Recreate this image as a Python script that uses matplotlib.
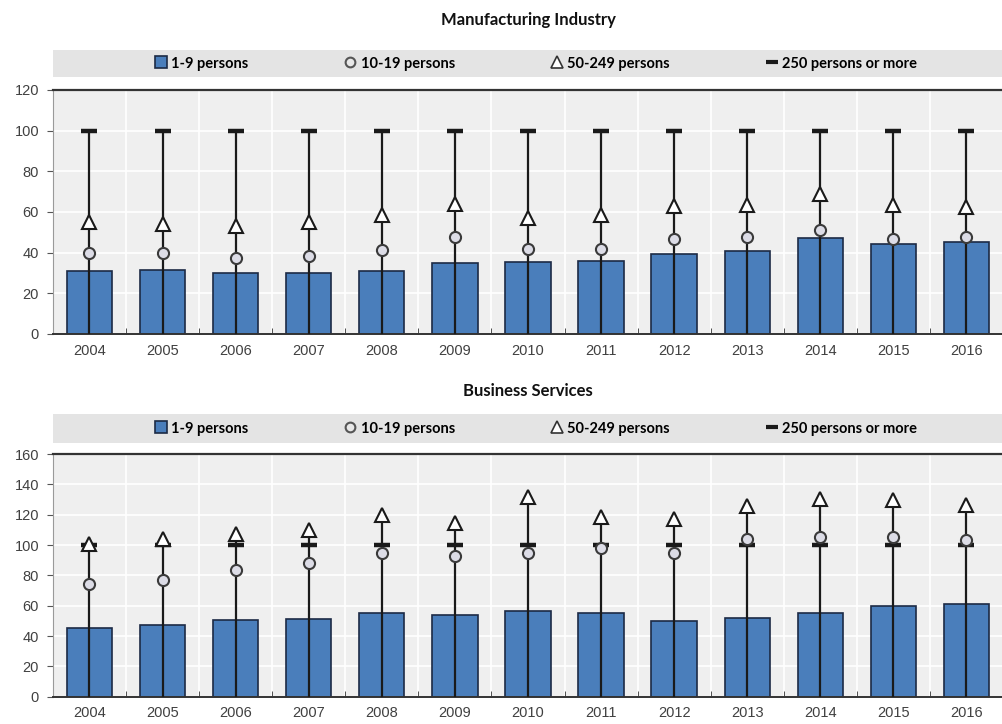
import numpy as np
import matplotlib
matplotlib.use("Agg")
import matplotlib.pyplot as plt
from matplotlib.patches import Rectangle
from matplotlib.lines import Line2D

# data (index, 250 persons or more = 100)
years = ['2004', '2005', '2006', '2007', '2008', '2009', '2010',
         '2011', '2012', '2013', '2014', '2015', '2016']

manu_1_9 = [31, 31.5, 30, 30, 31, 35, 35.5, 36, 39.5, 41, 47, 44.5, 45]
manu_10_19 = [40, 40, 37.5, 38.5, 41.5, 47.5, 42, 42, 46.5, 47.5, 51, 46.5, 47.5]
manu_50_249 = [55, 54, 53, 55, 58.5, 64, 57, 58.5, 63, 63.5, 69, 63.5, 62.5]
manu_250 = [100] * 13

serv_1_9 = [45, 47.5, 50.5, 51, 55, 54, 56.5, 55, 50, 52, 55, 59.5, 61]
serv_10_19 = [74, 77, 83.5, 88, 95, 93, 94.5, 98, 95, 104, 105, 105, 103]
serv_50_249 = [101, 104, 107.5, 110, 119.5, 114.5, 131.5, 118.5, 117, 126, 130.5, 129.5, 126.5]
serv_250 = [100] * 13

labels = ['1-9 persons', '10-19 persons', '50-249 persons', '250 persons or more']

BAR = '#4a7ebb'
BAR_EDGE = '#1c2a45'
LINE = '#1a1a1a'
BG = '#efefef'
BAND = '#e4e4e4'
TICK_COL = '#404040'


def draw_panel(fig, rect, band_rect, title, title_y, b1, c10, t50, d250, ymax):
    ax = fig.add_axes(rect)
    ax.set_facecolor(BG)
    x = np.arange(len(years))

    ax.bar(x, b1, width=0.62, color=BAR, edgecolor=BAR_EDGE, linewidth=1.2, zorder=2)
    tops = np.max(np.vstack([b1, c10, t50, d250]), axis=0)
    ax.vlines(x, 0, tops, color=LINE, linewidth=1.6, zorder=3)
    ax.plot(x, d250, linestyle='none', marker='_', markersize=11, mew=3.2, color=LINE, zorder=4)
    ax.plot(x, c10, linestyle='none', marker='o', markersize=8, mfc='#dcdce6', mec='#3a3a3a', mew=1.5, zorder=5)
    ax.plot(x, t50, linestyle='none', marker='^', markersize=9.5, mfc='white', mec='#1a1a1a', mew=1.5, zorder=5)

    ax.set_xlim(-0.5, len(years) - 0.5)
    ax.set_ylim(0, ymax)
    ax.set_yticks(np.arange(0, ymax + 1, 20))
    ax.set_xticks(x)
    ax.set_xticklabels(years)
    ax.set_xticks(np.arange(0.5, len(years) - 0.5, 1), minor=True)
    ax.tick_params(axis='x', which='major', length=0, pad=7, labelsize=10.5, labelcolor=TICK_COL)
    ax.tick_params(axis='x', which='minor', direction='in', length=4, color='#333333')
    ax.tick_params(axis='y', length=4, color='#555555', pad=6, labelsize=10.5, labelcolor=TICK_COL)
    for lab in ax.get_xticklabels() + ax.get_yticklabels():
        lab.set_family('Liberation Sans')

    ax.grid(axis='y', color='white', linewidth=1.2, zorder=0)
    ax.grid(axis='x', which='minor', color='white', linewidth=1.2, zorder=0)
    ax.set_axisbelow(True)

    ax.spines['right'].set_visible(False)
    ax.spines['left'].set_color('#9a9a9a')
    ax.spines['top'].set_color('#333333')
    ax.spines['top'].set_linewidth(1.6)
    ax.spines['bottom'].set_color('#333333')
    ax.spines['bottom'].set_linewidth(1.4)

    # grey legend band above the plot
    fig.patches.append(Rectangle((band_rect[0], band_rect[1]), band_rect[2], band_rect[3],
                                 transform=fig.transFigure, facecolor=BAND, edgecolor='none', zorder=0))
    handles = [
        Line2D([], [], linestyle='none', marker='s', markersize=8, mfc=BAR, mec=BAR_EDGE, mew=1.2),
        Line2D([], [], linestyle='none', marker='o', markersize=7, mfc='#e8e8e8', mec='#555555', mew=1.5),
        Line2D([], [], linestyle='none', marker='^', markersize=8, mfc='white', mec='#333333', mew=1.2),
        Line2D([], [], linestyle='none', marker='_', markersize=9, mew=3, color=LINE),
    ]
    fig.legend(handles, labels, ncol=4, loc='center',
               bbox_to_anchor=(band_rect[0] + band_rect[2] / 2 + 0.008, band_rect[1] + band_rect[3] / 2),
               frameon=False, handlelength=0.8, handletextpad=0.3, columnspacing=6.6,
               prop={'family': 'Lato', 'weight': 'bold', 'size': 10.5})

    fig.text(rect[0] + rect[2] / 2, title_y, title, ha='center', va='center',
             fontsize=12, fontweight='bold', family='Lato', color='#111111')
    return ax


fig = plt.figure(figsize=(10.03, 7.24), dpi=100)

draw_panel(fig, [0.0528, 0.5387, 0.9472, 0.3370], [0.0528, 0.8936, 0.9472, 0.0373],
           'Manufacturing Industry', 1 - 20 / 724,
           manu_1_9, manu_10_19, manu_50_249, manu_250, 120)

draw_panel(fig, [0.0528, 0.0377, 0.9472, 0.3352], [0.0528, 0.3881, 0.9472, 0.0400],
           'Business Services', 1 - 391 / 724,
           serv_1_9, serv_10_19, serv_50_249, serv_250, 160)

fig.savefig('out.png', dpi=100)
